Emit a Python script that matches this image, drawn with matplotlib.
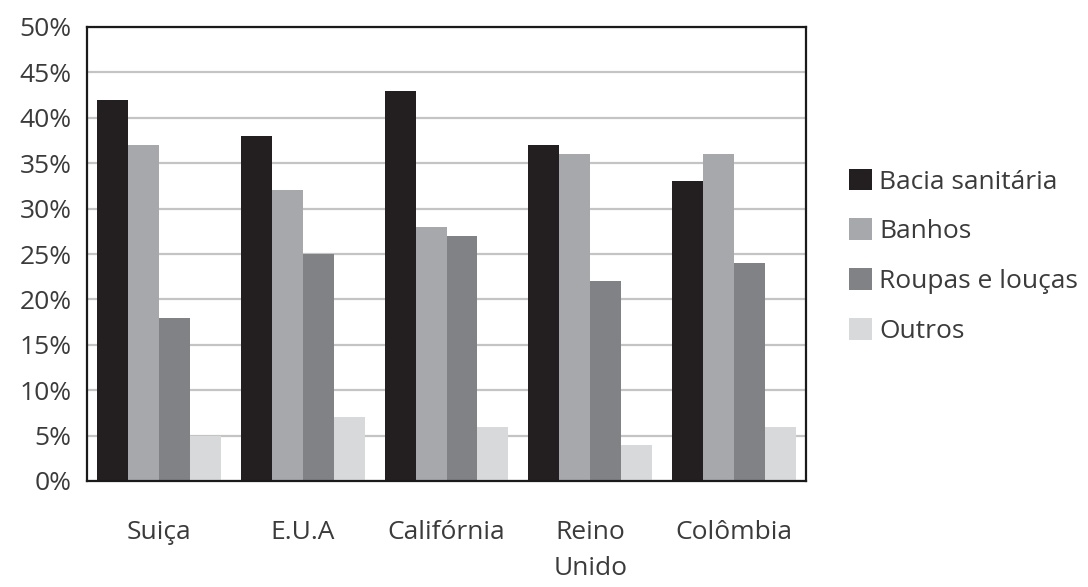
import matplotlib.pyplot as plt
import numpy as np
from matplotlib.patches import Patch
from matplotlib.ticker import FuncFormatter, MultipleLocator

plt.rcParams["font.family"] = ["Open Sans", "DejaVu Sans"]

TEXT_COLOR = "#3b3b3b"

regions = ["Suiça", "E.U.A", "Califórnia", "Reino\nUnido", "Colômbia"]
series_names = ["Bacia sanitária", "Banhos", "Roupas e louças", "Outros"]
bacia = [42, 38, 43, 37, 33]
banhos = [37, 32, 28, 36, 36]
roupas = [18, 25, 27, 22, 24]
outros = [5, 7, 6, 4, 6]
colors = ["#231f20", "#a6a8ab", "#808285", "#d8d9da"]

values = [bacia, banhos, roupas, outros]

fig = plt.figure(figsize=(10.88, 5.87), dpi=100)
ax = fig.add_axes([87 / 1088, 1 - 481 / 587, (806 - 87) / 1088, (481 - 27) / 587])

x = np.arange(len(regions))
width = 0.215
offsets = (np.arange(4) - 1.5) * width

for vals, off, color in zip(values, offsets, colors):
    ax.bar(x + off, vals, width=width, color=color, zorder=2)

ax.set_xlim(-0.5, len(regions) - 0.5)
ax.set_ylim(0, 50)
ax.yaxis.set_major_locator(MultipleLocator(5))
ax.yaxis.set_major_formatter(FuncFormatter(lambda v, _: f"{v:.0f}%"))
ax.grid(axis="y", color="#c4c4c4", linewidth=1.6, zorder=0)
ax.set_axisbelow(True)

ax.set_xticks(x)
ax.set_xticklabels(regions, fontsize=19, color=TEXT_COLOR, linespacing=1.6, va="top")
ax.tick_params(axis="x", length=0, pad=28)
ax.tick_params(axis="y", length=0, pad=11, labelsize=19, labelcolor=TEXT_COLOR)

for spine in ax.spines.values():
    spine.set_color("#1a1a1a")
    spine.set_linewidth(1.6)

handles = [Patch(facecolor=c, edgecolor="none") for c in colors]
ax.legend(
    handles,
    series_names,
    loc="center left",
    bbox_to_anchor=(1.045, 0.495),
    frameon=False,
    fontsize=19,
    handlelength=0.87,
    handleheight=0.9,
    handletextpad=0.27,
    labelspacing=0.9,
    labelcolor=TEXT_COLOR,
    borderaxespad=0,
)

fig.savefig("out.png", dpi=100, facecolor="white")
